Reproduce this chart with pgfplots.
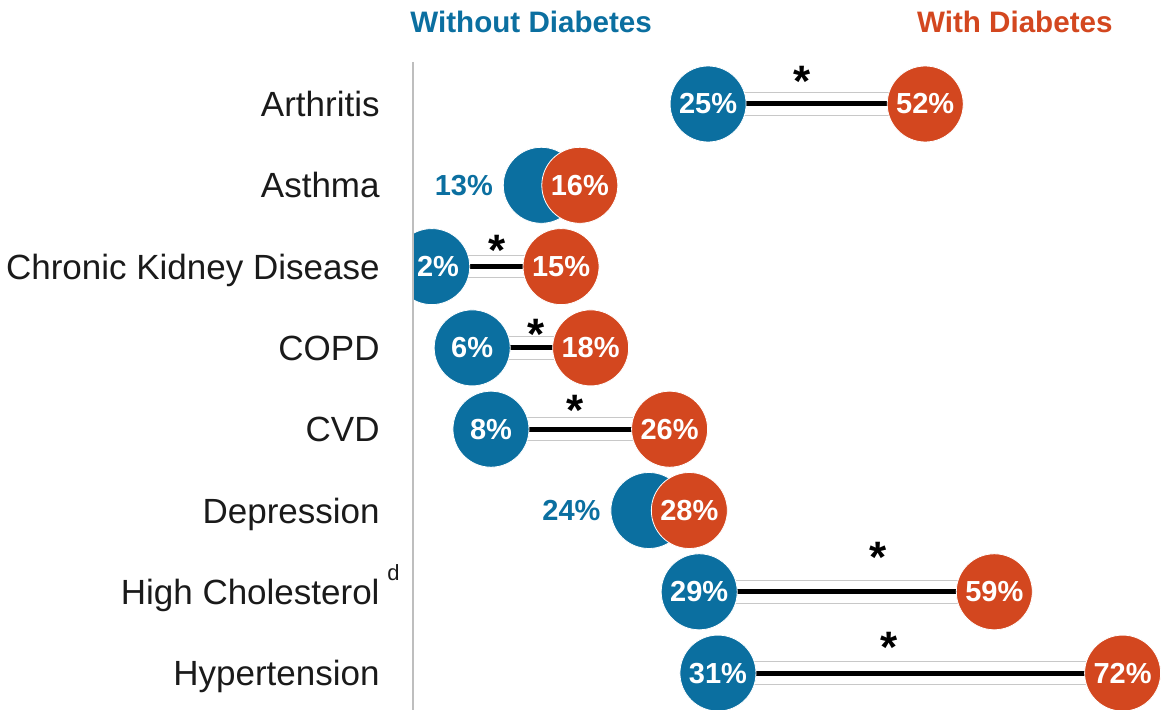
\documentclass[border=0pt]{standalone}
\usepackage{pgfplots}
\pgfplotsset{compat=1.18}
\usepackage{pgfplotstable}
\usepackage{fontspec}
\setmainfont{Liberation Sans}
\definecolor{myblue}{HTML}{0B6FA0}
\definecolor{myorange}{HTML}{D3471F}
\definecolor{txt}{HTML}{1A1A1A}
\definecolor{lgray}{HTML}{C8C8C8}
\definecolor{axgray}{HTML}{BEBEBE}

% circle positions (x) and displayed values (lab)
\pgfplotstableread{
x y lab
30 0 25
13.1 1 13
2 2 2
6.1 3 6
8 4 8
24 5 24
29.1 6 29
31 7 31
}\without
\pgfplotstableread{
x y lab
52 0 52
17 1 16
15.1 2 15
18.1 3 18
26.1 4 26
28.1 5 28
59 6 59
72 7 72
}\withd
% labels drawn inside blue circles
\pgfplotstableread{
x y lab
30 0 25
2.63 2 2
6.1 3 6
8 4 8
29.1 6 29
31 7 31
}\withoutin
% labels drawn left of blue circles
\pgfplotstableread{
x y lab
13.1 1 13
24 5 24
}\withoutout
% significant differences: connectors
\pgfplotstableread{
x y
30 0
52 0
nan nan
2 2
15.1 2
nan nan
6.1 3
18.1 3
nan nan
8 4
26.1 4
nan nan
29.1 6
59 6
nan nan
31 7
72 7
}\links
% asterisk positions
\pgfplotstableread{
x y
39.51 -0.394
8.61 1.685
12.56 2.718
16.51 3.641
47.21 5.461
48.33 6.568
}\stars

\begin{document}
\begin{tikzpicture}
\begin{axis}[
  at={(206pt,0pt)}, anchor=south west,
  scale only axis, width=375pt, height=355pt,
  xmin=0, xmax=75.99, ymin=-1.2792, ymax=7.4539,
  y dir=reverse,
  axis line style={draw=none},
  xtick=\empty,
  ytick={0,...,7},
  yticklabels={Arthritis,Asthma,Chronic Kidney Disease,COPD,CVD,Depression,High Cholesterol,Hypertension},
  major tick length=0pt,
  yticklabel style={font=\fontsize{17.5}{20}\selectfont, text=txt, anchor=base east, inner sep=0pt, yshift=-6.27pt, xshift=-16pt},
  clip mode=individual,
  clip marker paths=true,
]
% gray frame lines and black connector
\addplot[lgray, line width=0.5pt, unbounded coords=jump] table[x=x, y expr=\thisrow{y}-0.139] {\links};
\addplot[lgray, line width=0.5pt, unbounded coords=jump] table[x=x, y expr=\thisrow{y}+0.139] {\links};
\addplot[black, line width=2.5pt, unbounded coords=jump] table[x=x, y=y] {\links};
% circles
\addplot[only marks, mark=*, mark size=19pt, mark options={fill=myblue, draw=white, line width=0.4pt}] table[x=x, y=y] {\without};
\addplot[only marks, mark=*, mark size=19pt, mark options={fill=myorange, draw=white, line width=0.4pt}] table[x=x, y=y] {\withd};
% value labels
\addplot[draw=none, mark=none, nodes near coords={\pgfplotspointmeta\%}, point meta=explicit symbolic,
  nodes near coords style={anchor=center, inner sep=0pt, text=white, font=\fontsize{14.5}{17}\selectfont\bfseries}]
  table[x=x, y=y, meta=lab] {\withoutin};
\addplot[draw=none, mark=none, nodes near coords={\pgfplotspointmeta\%}, point meta=explicit symbolic,
  nodes near coords style={anchor=center, inner sep=0pt, text=white, font=\fontsize{14.5}{17}\selectfont\bfseries}]
  table[x=x, y=y, meta=lab] {\withd};
\addplot[draw=none, mark=none, nodes near coords={\pgfplotspointmeta\%}, point meta=explicit symbolic,
  nodes near coords style={anchor=east, inner sep=0pt, xshift=-24pt, text=myblue, font=\fontsize{14.5}{17}\selectfont\bfseries}]
  table[x=x, y=y, meta=lab] {\withoutout};
% asterisks
\addplot[draw=none, mark=none, nodes near coords={*}, 
  nodes near coords style={anchor=base, inner sep=0pt, yshift=-12.5pt, text=black, font=\fontsize{22}{24}\selectfont\bfseries}]
  table[x=x, y=y] {\stars};
% axis line
\draw[axgray, line width=1pt] (axis cs:0.1,-0.5166) -- (axis cs:0.1,7.4539);
% headers
\node[anchor=base west, inner sep=0pt, xshift=-1pt, text=myblue, font=\fontsize{14.8}{17}\selectfont\bfseries] at (axis cs:0,-0.8733) {Without Diabetes};
\node[anchor=base east, inner sep=0pt, text=myorange, font=\fontsize{14.8}{17}\selectfont\bfseries] at (axis cs:71.02,-0.8733) {With Diabetes};
% footnote mark
\node[anchor=base west, inner sep=0pt, xshift=-12.5pt, text=txt, font=\fontsize{11}{12}\selectfont] at (axis cs:0,5.855) {d};
\end{axis}
\pgfresetboundingbox
\path[use as bounding box] (0,0) rectangle (581pt,355pt);
\end{tikzpicture}
\end{document}
